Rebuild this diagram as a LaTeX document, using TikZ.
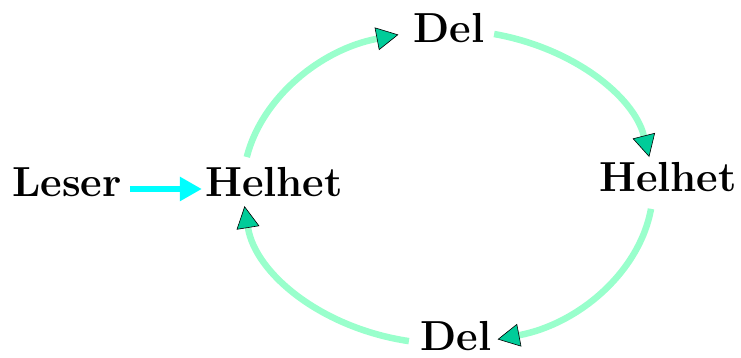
\documentclass[tikz,border=0pt]{standalone}
\usepackage{fontspec}
\usetikzlibrary{arrows.meta}
\definecolor{arcgreen}{RGB}{153,255,204}
\definecolor{tipgreen}{RGB}{0,204,153}
\definecolor{feedcyan}{RGB}{0,255,255}
\begin{document}
\begin{tikzpicture}[x=1pt,y=1pt,
  lbl/.style={font=\fontsize{42}{42}\selectfont\bfseries, inner sep=0pt, anchor=base},
  cyc/.style={draw=arcgreen, line width=6.5pt, -{Triangle[length=22pt,width=23pt,fill=tipgreen,color=black,line width=0.6pt]}},
  feed/.style={draw=feedcyan, line width=6pt, -{Triangle[length=22pt,width=23pt]}}]
\useasboundingbox (0,0) rectangle (741,358);
\node[lbl] (leser) at (67,161) {Leser};
\node[lbl] (helL) at (274,161) {Helhet};
\node[lbl] (delT) at (449,315) {Del};
\node[lbl] (helR) at (668,166) {Helhet};
\node[lbl] (delB) at (456,7) {Del};
\coordinate (O) at (448,171);
\draw[feed] ([xshift=8pt,yshift=8pt]leser.base east) -- ([xshift=-3pt,yshift=8pt]helL.base west);
\draw[cyc] ([shift={(169:205 and 157)}]O) arc[start angle=169, end angle=104, x radius=205, y radius=157];
\draw[cyc] ([shift={(77:205 and 157)}]O) arc[start angle=77, end angle=11, x radius=205, y radius=157];
\draw[cyc] ([shift={(-8:205 and 157)}]O) arc[start angle=-8, end angle=-76, x radius=205, y radius=157];
\draw[cyc] ([shift={(-101:205 and 157)}]O) arc[start angle=-101, end angle=-173, x radius=205, y radius=157];
\end{tikzpicture}
\end{document}
